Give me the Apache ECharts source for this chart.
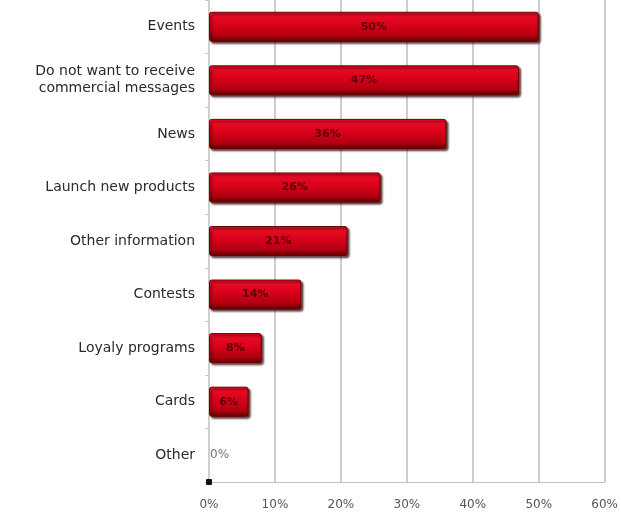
<!DOCTYPE html>
<html>
<head>
<meta charset="utf-8">
<script src="https://cdn.jsdelivr.net/npm/echarts@6/dist/echarts.min.js"></script>
<style>
  html, body { margin: 0; padding: 0; background: #fff; }
  #main { width: 621px; height: 512px; }
</style>
</head>
<body>
<div id="main"></div>
<script>
// categories, top to bottom
const categories = [
  'Events',
  'Do not want to receive\ncommercial messages',
  'News',
  'Launch new products',
  'Other information',
  'Contests',
  'Loyaly programs',
  'Cards',
  'Other'
]
// share of respondents, %
const values = [50, 47, 36, 26, 21, 14, 8, 6, 0]
const xTicks = [0, 10, 20, 30, 40, 50, 60]

const chart = echarts.init(document.getElementById('main'))

// red bar with a dark lower edge, like the bevelled bars in the picture
const barColor = new echarts.graphic.LinearGradient(0, 0, 0, 1, [
  { offset: 0, color: '#f0102a' },
  { offset: 0.45, color: '#d8001a' },
  { offset: 0.8, color: '#b00010' },
  { offset: 1, color: '#5a0000' }
])

const option = {
  animation: false,
  grid: { left: 209, right: 14, top: -4, bottom: 30, containLabel: false },
  xAxis: {
    type: 'value',
    min: xTicks[0],
    max: xTicks[xTicks.length - 1],
    interval: 10,
    axisLine: { show: true, lineStyle: { color: '#c0c0c0', width: 1 } },
    axisTick: { show: false },
    axisLabel: {
      formatter: '{value}%',
      color: '#555',
      fontSize: 12,
      fontFamily: 'DejaVu Sans',
      margin: 17
    },
    splitLine: { show: true, lineStyle: { color: '#bdbdbd', width: 1.5 } }
  },
  yAxis: {
    type: 'category',
    inverse: true,
    data: categories,
    axisLine: { show: true, lineStyle: { color: '#e8c8cc', width: 1 } },
    axisTick: { show: true, length: 4, lineStyle: { color: '#d8c0c4' } },
    axisLabel: {
      color: '#2a2a2a',
      fontSize: 14,
      fontFamily: 'DejaVu Sans',
      margin: 14,
      lineHeight: 17,
      align: 'right'
    }
  },
  series: [
    {
      type: 'bar',
      barWidth: 30,
      data: values.map(v => {
        if (v === 0) {
          // empty bar: no border or shadow, just the label next to the axis
          return {
            value: v,
            itemStyle: { color: 'rgba(0,0,0,0)', borderWidth: 0, shadowColor: 'rgba(0,0,0,0)' },
            label: { position: 'right', distance: 1, color: '#777', fontSize: 12, fontWeight: 'normal' }
          }
        }
        return v
      }),
      itemStyle: {
        color: barColor,
        borderColor: '#6a0000',
        borderWidth: 1,
        borderRadius: 2,
        shadowColor: 'rgba(40, 0, 0, 0.75)',
        shadowBlur: 2,
        shadowOffsetX: 2,
        shadowOffsetY: 2
      },
      label: {
        show: true,
        position: 'inside',
        formatter: '{c}%',
        color: '#5a0008',
        fontSize: 11,
        fontWeight: 'bold',
        fontFamily: 'DejaVu Sans'
      }
    }
  ],
  graphic: [
    {
      // small black marker at the origin of the axes
      type: 'rect',
      left: 206,
      bottom: 27,
      shape: { width: 6, height: 6, r: 1 },
      style: { fill: '#111' },
      z: 100
    }
  ]
}

option && chart.setOption(option)
</script>
</body>
</html>
